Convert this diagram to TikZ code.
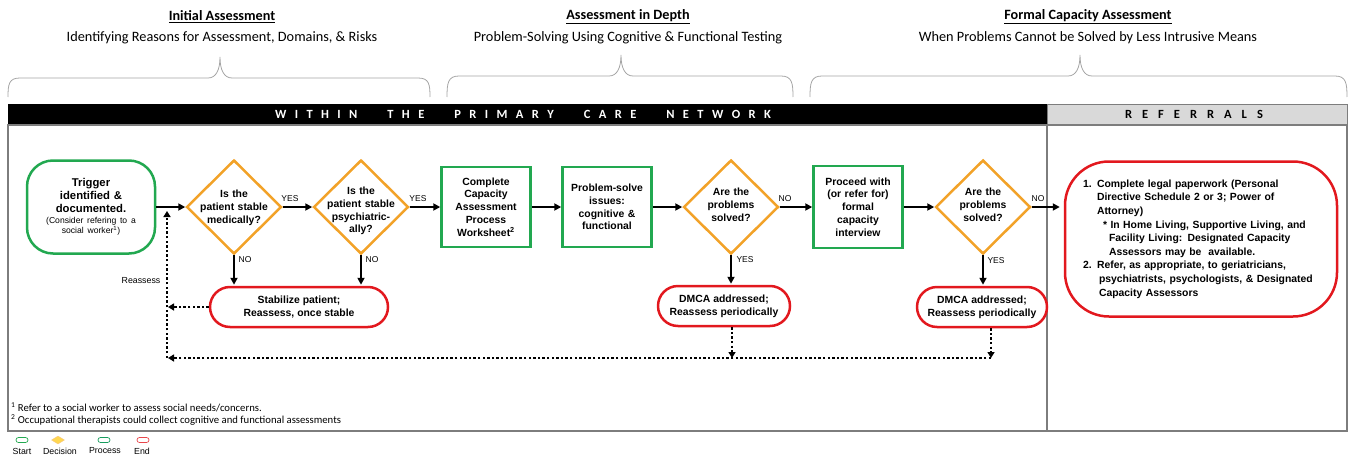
\documentclass[tikz,border=0pt]{standalone}
\usepackage{fontspec}
\setmainfont{Liberation Sans}
\newfontfamily\calibrifont{Carlito}
\usetikzlibrary{arrows.meta,shapes.geometric}
\definecolor{cgreen}{RGB}{34,168,80}
\definecolor{corange}{RGB}{242,162,40}
\definecolor{cred}{RGB}{226,24,30}
\definecolor{cframe}{RGB}{125,125,125}
\definecolor{cbrace}{RGB}{165,165,165}
\definecolor{chead}{RGB}{217,217,217}
\definecolor{cyel}{RGB}{255,215,80}
\newcommand\myls{\hspace{8.4pt}}
\newcommand\myws{\hspace{30pt}}
\newcommand\myrs{\hspace{10pt}}
\newcommand\smallfnt{\fontsize{8.6}{10}\selectfont\mdseries}
\begin{document}
\begin{tikzpicture}[x=1pt,y=-1pt,
  nodefont/.style={font=\fontsize{10.4}{12.8}\selectfont\bfseries},
  startbox/.style={draw=cgreen, line width=2.5pt, rounded corners=26pt, minimum width=128pt, minimum height=93pt, align=center, inner sep=0pt, text width=122pt, font=\fontsize{11.3}{13}\selectfont\bfseries},
  procbox/.style={draw=cgreen, line width=2.5pt, minimum width=89pt, minimum height=80pt, align=center, inner sep=0pt, text width=86pt, nodefont},
  decbox/.style={draw=corange, line width=2.5pt, diamond, minimum width=95pt, minimum height=94pt, inner sep=0pt},
  dectext/.style={nodefont, align=center, text width=90pt, inner sep=0pt},
  endbox/.style={draw=cred, line width=2.5pt, rounded corners=20pt, align=center, inner sep=0pt, minimum height=40pt, nodefont},
  flow/.style={line width=2pt, -{Triangle[length=7pt,width=7pt]}},
  dotflow/.style={line width=2.4pt, dash pattern=on 2.4pt off 2.2pt, -{Triangle[length=6pt,width=7pt]}},
  lbl/.style={font=\fontsize{8.5}{10}\selectfont, inner sep=0pt},
  bracepath/.style={draw=cbrace, line width=0.8pt},
  headtitle/.style={font=\calibrifont\bfseries\fontsize{14.2}{16}\selectfont},
  headsub/.style={font=\calibrifont\fontsize{14.3}{16}\selectfont},
  legshape/.style={line width=0.7pt, minimum width=12pt, minimum height=5pt, inner sep=0pt, rounded corners=2.5pt},
  leglbl/.style={font=\fontsize{8.8}{9}\selectfont, inner sep=0pt},
  footnt/.style={font=\calibrifont\fontsize{10.7}{12}\selectfont, anchor=west, inner sep=0pt}
]
\useasboundingbox (0,0) rectangle (1350,458);

% ---------- section headings ----------
\node[headtitle] (h1) at (222,17) {\underline{Initial Assessment}};
\node[headsub] (s1) at (222,37.5) {Identifying Reasons for Assessment, Domains, \& Risks};
\node[headtitle] (h2) at (628,17) {\underline{Assessment in Depth}};
\node[headsub] (s2) at (628,37.5) {Problem-Solving Using Cognitive \& Functional Testing};
\node[headtitle] (h3) at (1088,17) {\underline{Formal Capacity Assessment}};
\node[headsub] (s3) at (1088,37.5) {When Problems Cannot be Solved by Less Intrusive Means};

% ---------- braces ----------
\draw[bracepath] (8,97) .. controls (8,84) and (9,78) .. (20,78) -- (208,78) .. controls (216,78) and (220,70) .. (220,57) .. controls (220,70) and (224,78) .. (232,78) -- (418,78) .. controls (429,78) and (430,84) .. (430,97);
\draw[bracepath] (447,97) .. controls (447,83) and (448,76) .. (459,76) -- (609,76) .. controls (617,76) and (621,68) .. (621,55) .. controls (621,68) and (625,76) .. (633,76) -- (781,76) .. controls (792,76) and (793,83) .. (793,97);
\draw[bracepath] (810,97) .. controls (810,83) and (811,76) .. (822,76) -- (1068,76) .. controls (1076,76) and (1080,68) .. (1080,55) .. controls (1080,68) and (1084,76) .. (1092,76) -- (1335,76) .. controls (1346,76) and (1347,83) .. (1347,97);

% ---------- frame and header bars ----------
\fill[black] (8,104) rectangle (1047,125);
\draw[cframe, fill=chead, line width=1pt] (1047,104) rectangle (1347,125);
\draw[cframe, line width=1.3pt] (8,125) rectangle (1347,431);
\draw[cframe, line width=1.3pt] (1047,125) -- (1047,431);
\node[font=\calibrifont\bfseries\fontsize{12.5}{13}\selectfont, text=white] (barA) at (523,114.5) {W\myls I\myls T\myls H\myls I\myls N\myws T\myls H\myls E\myws P\myls R\myls I\myls M\myls A\myls R\myls Y\myws C\myls A\myls R\myls E\myws N\myls E\myls T\myls W\myls O\myls R\myls K};
\node[font=\calibrifont\bfseries\fontsize{12.5}{13}\selectfont, text=black] (barB) at (1194,114.5) {R\myrs E\myrs F\myrs E\myrs R\myrs R\myrs A\myrs L\myrs S};

% ---------- flowchart nodes ----------
\node[startbox] (trig) at (91,207) {Trigger\\identified \&\\documented.\par\vspace{1.5pt}{\smallfnt (Consider refering to a\\social worker\textsuperscript{1})\par}};

\node[decbox] (d1) at (234,207) {};
\node[dectext] (d1t) at (234,208) {Is the\\patient stable\\medically?};
\node[decbox] (d2) at (361,207) {};
\node[dectext] (d2t) at (361,211) {Is the\\patient stable\\psychiatric-\\ally?};

\node[procbox] (p1) at (486,207) {Complete\\Capacity\\Assessment\\Process\\Worksheet\textsuperscript{2}};
\node[procbox] (p2) at (607,207) {Problem-solve\\issues:\\cognitive \&\\functional};

\node[decbox] (d3) at (731,207) {};
\node[dectext] (d3t) at (731,205) {Are the\\problems\\solved?};

\node[procbox, minimum height=82pt] (p3) at (858,207) {Proceed with\\(or refer for)\\formal\\capacity\\interview};

\node[decbox] (d4) at (983,207) {};
\node[dectext] (d4t) at (983,205) {Are the\\problems\\solved?};

\node[draw=cred, line width=2.5pt, rounded corners=44pt, minimum width=272pt, minimum height=155pt, inner sep=0pt, text width=236pt, align=left, font=\fontsize{10.4}{13.6}\selectfont\bfseries] (ref) at (1201,239) {\makebox[14pt][l]{1.}Complete legal paperwork (Personal\\
\hspace*{14pt}Directive Schedule 2 or 3; Power of\\
\hspace*{14pt}Attorney)\\
\hspace*{20pt}* In Home Living, Supportive Living, and\\
\hspace*{26pt}Facility Living: Designated Capacity\\
\hspace*{26pt}Assessors may be\ \ available.\\
\makebox[14pt][l]{2.}Refer, as appropriate, to geriatricians,\\
\hspace*{16pt}psychiatrists, psychologists, \& Designated\\
\hspace*{16pt}Capacity Assessors};

\node[endbox, minimum width=178pt] (stab) at (299,307) {Stabilize patient;\\Reassess, once stable};
\node[endbox, minimum width=132pt] (dm1) at (724,306) {DMCA addressed;\\Reassess periodically};
\node[endbox, minimum width=130pt] (dm2) at (982,307) {DMCA addressed;\\Reassess periodically};

% ---------- solid connectors ----------
\draw[flow] (trig.east) -- (d1.west);
\draw[flow] (d1.east) -- (d2.west);
\draw[flow] (d2.east) -- (p1.west);
\draw[flow] (p1.east) -- (p2.west);
\draw[flow] (p2.east) -- (d3.west);
\draw[flow] (d3.east) -- (p3.west);
\draw[flow] (p3.east) -- (d4.west);
\draw[flow, shorten >=4pt] (d4.east) -- (d4.east -| ref.west);
\draw[flow, shorten >=1pt] (d1.south) -- (d1.south |- stab.north);
\draw[flow, shorten >=1pt] (d2.south) -- (d2.south |- stab.north);
\draw[flow, shorten >=1pt] (d3.south) -- (d3.south |- dm1.north);
\draw[flow, shorten >=1pt] (d4.south) -- (d4.south |- dm2.north);

% ---------- connector labels ----------
\node[lbl] (y1) at (290,199) {YES};
\node[lbl] (y2) at (418,199) {YES};
\node[lbl] (n3) at (785,199) {NO};
\node[lbl] (n4) at (1038,199) {NO};
\node[lbl] (n1) at (245,260) {NO};
\node[lbl] (n2) at (372,260) {NO};
\node[lbl] (y3) at (745,260) {YES};
\node[lbl] (y4) at (996,261) {YES};
\node[lbl, font=\fontsize{8.8}{10}\selectfont] (reas) at (141,281) {Reassess};

% ---------- dotted reassess loop ----------
\coordinate (bl) at (167,358);
\coordinate (br) at (991,358);
\coordinate (m1) at (732,358);
\draw[dotflow] (stab.west) -- ([xshift=1pt]stab.west -| bl);
\draw[dotflow] (dm1.south -| m1) -- (m1);
\draw[dotflow] (dm2.south -| br) -- (br);
\draw[dotflow] (br) -- ([xshift=1pt]bl);
\draw[dotflow] (bl) -- ([yshift=-4pt]bl |- trig.east);

% ---------- footnotes ----------
\node[footnt] (fn1) at (11,407) {\textsuperscript{1} Refer to a social worker to assess social needs/concerns.};
\node[footnt] (fn2) at (11,420) {\textsuperscript{2} Occupational therapists could collect cognitive and functional assessments};

% ---------- legend ----------
\node[legshape, draw=cgreen] (lgs) at (22,440) {};
\node[diamond, fill=cyel, draw=corange!60, line width=0.4pt, minimum width=13pt, minimum height=8pt, inner sep=0pt] (lgd) at (58,440) {};
\node[legshape, draw=cgreen!70!teal] (lgp) at (104,440) {};
\node[legshape, draw=cred!80] (lge) at (143,440) {};
\node[leglbl] (lgst) at (22,451) {Start};
\node[leglbl] (lgdt) at (60,451) {Decision};
\node[leglbl] (lgpt) at (105,451) {Process};
\node[leglbl] (lget) at (142,451) {End};
\end{tikzpicture}
\end{document}
